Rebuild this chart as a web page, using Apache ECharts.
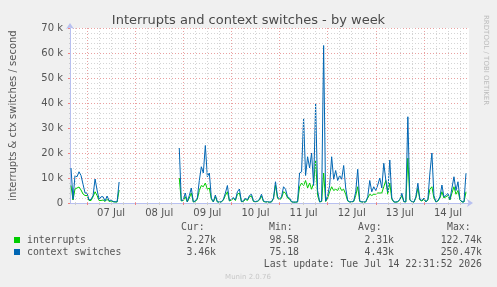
<!DOCTYPE html>
<html>
<head>
<meta charset="utf-8">
<script src="https://cdn.jsdelivr.net/npm/echarts@6/dist/echarts.min.js"></script>
<style>
  html, body { margin: 0; padding: 0; background: #f0f0f0; }
  #chart { width: 497px; height: 287px; }
</style>
</head>
<body>
<div id="chart"></div>
<script>
// hours are counted from 07 Jul 00:00
const dayLabels = ['07 Jul', '08 Jul', '09 Jul', '10 Jul', '11 Jul', '12 Jul', '13 Jul', '14 Jul'];
const dayLabelHours = [12, 36, 60, 84, 108, 132, 156, 180];
const dayMidnights = [0, 24, 48, 72, 96, 120, 144, 168];
const yTickLabels = ['0', '10 k', '20 k', '30 k', '40 k', '50 k', '60 k', '70 k'];

const stepHours = 1;
// first stretch: 06 Jul 16:00 .. 07 Jul 16:00
const segAStart = -8;
const interruptsA = [7000, 1200, 5600, 6000, 6400, 5200, 3600, 3000, 3000, 1000, 1000, 2500, 4500, 3000, 1000, 1000, 1200, 600, 1500, 600, 800, 500, 400, 400, 5200];
const ctxSwitchesA = [14000, 1500, 11000, 10500, 12500, 11000, 7500, 4000, 4000, 1200, 1500, 3000, 9600, 5200, 1500, 2500, 2500, 800, 2800, 900, 1200, 600, 500, 500, 8400];
// second stretch: 08 Jul 22:00 .. 14 Jul 21:00
const segBStart = 46;
const interruptsB = [
  10000, 800, 1000, 2500, 400, 2000, 4000, 400, 600, 1500,
  5000, 7000, 6500, 8000, 5500, 6000, 1500, 400, 2500, 400,
  300, 400, 1200, 3000, 4500, 800, 1200, 1800, 1000, 3500,
  4000, 500, 600, 1500, 1000, 2500, 2800, 600, 500, 600,
  1200, 2800, 600, 400, 400, 300, 400, 1800, 7200, 2000,
  1200, 2000, 4500, 4000, 2000, 1500, 400, 300, 300, 400,
  6500, 8000, 7000, 9000, 6000, 8000, 5500, 8000, 17000, 3000,
  400, 600, 12000, 600, 2000, 4500, 6500, 5000, 5500, 5000,
  6500, 5000, 5500, 3500, 800, 400, 400, 600, 3000, 6500,
  600, 400, 300, 400, 2000, 3500, 3000, 3500, 3500, 4000,
  4000, 4000, 6500, 9000, 3500, 8000, 1500, 400, 300, 500,
  1200, 3000, 500, 400, 17900, 1200, 400, 300, 2000, 5900,
  1200, 800, 1500, 400, 1200, 5500, 6500, 2000, 400, 800,
  2000, 4500, 2000, 2500, 3000, 1200, 4000, 6500, 3500, 5000,
  1200, 400, 400, 4500
];
const ctxSwitchesB = [
  22000, 1000, 1200, 4000, 500, 3000, 6000, 500, 800, 2000,
  9000, 14500, 12000, 23000, 10500, 12000, 2000, 500, 3200, 500,
  400, 500, 1500, 4000, 7000, 1000, 1500, 2200, 1200, 4500,
  5600, 600, 800, 2000, 1200, 3000, 3500, 800, 600, 800,
  1500, 3500, 800, 500, 500, 400, 500, 2000, 8500, 2500,
  1500, 2500, 6500, 5500, 2500, 2000, 500, 400, 400, 500,
  12000, 12500, 34000, 11000, 18500, 14000, 20000, 7000, 39600, 5000,
  500, 800, 63000, 800, 3000, 7000, 18500, 9500, 13000, 9000,
  11000, 9500, 15000, 6000, 1000, 500, 500, 800, 4500, 13500,
  800, 500, 400, 500, 2500, 9000, 4500, 6500, 5000, 7200,
  10000, 6000, 15900, 9200, 4500, 17200, 2000, 500, 400, 600,
  1500, 3900, 600, 500, 34500, 1500, 500, 400, 2500, 7900,
  1500, 1000, 2000, 500, 1500, 12000, 20000, 3000, 500, 1000,
  2500, 7200, 2500, 3000, 3900, 1500, 6000, 10500, 5000, 8500,
  1500, 500, 500, 11900
];

const legendNames = ['interrupts', 'context switches'];
const legendColors = ['#00cc00', '#0066b3'];
const statHeads = ['Cur:', 'Min:', 'Avg:', 'Max:'];
const intStats = ['2.27k', '98.58', '2.31k', '122.74k'];
const ctxStats = ['3.46k', '75.18', '4.43k', '250.47k'];
const lastUpdate = 'Last update: Tue Jul 14 22:31:52 2026';

function toPoints(start, values) {
  return values.map((v, i) => [start + i * stepHours, v]);
}
function joinSegments(a, b) {
  const gapAt = segAStart + a.length * stepHours;
  return toPoints(segAStart, a).concat([[gapAt, null]], toPoints(segBStart, b));
}

const quarterHours = [];
for (let h = -6; h < 190; h += 6) {
  if (h % 24 !== 0) quarterHours.push(h);
}

const mono = 'DejaVu Sans Mono';
const sans = 'DejaVu Sans';
const statCols = [216, 299, 394, 482];
const headLeft = [181, 269, 358, 447];

const graphic = [];
statHeads.forEach((t, i) => {
  graphic.push({ type: 'text', left: headLeft[i], top: 222,
    style: { text: t, font: '9.8px ' + mono, fill: '#555' } });
});
[intStats, ctxStats].forEach((row, r) => {
  const y = 240 + r * 12;
  graphic.push({ type: 'rect', shape: { x: 14, y: y - 3, width: 6, height: 6 },
    style: { fill: legendColors[r] } });
  graphic.push({ type: 'text', x: 27, y: y,
    style: { text: legendNames[r], font: '9.8px ' + mono, fill: '#555', verticalAlign: 'middle' } });
  row.forEach((t, i) => {
    graphic.push({ type: 'text', x: statCols[i], y: y,
      style: { text: t, font: '9.8px ' + mono, fill: '#555', align: 'right', verticalAlign: 'middle' } });
  });
});
graphic.push({ type: 'text', x: 482, y: 264,
  style: { text: lastUpdate, font: '9.8px ' + mono, fill: '#555', align: 'right', verticalAlign: 'middle' } });
graphic.push({ type: 'text', x: 248, y: 277,
  style: { text: 'Munin 2.0.76', font: '7px ' + sans, fill: '#c8c8c8', align: 'center', verticalAlign: 'middle' } });
graphic.push({ type: 'text', x: 486, y: 15, rotation: -Math.PI / 2,
  style: { text: 'RRDTOOL / TOBI OETIKER', font: '7px ' + sans, fill: '#bbb', align: 'left', verticalAlign: 'middle' } });

const gridLine = (h, color) => ({ xAxis: h, lineStyle: { color: color, type: [1, 2], width: 1 } });

const chart = echarts.init(document.getElementById('chart'));
const option = {
  animation: false,
  backgroundColor: '#f0f0f0',
  title: {
    text: 'Interrupts and context switches - by week',
    left: 'center',
    top: 9,
    textStyle: { fontFamily: sans, fontSize: 13, fontWeight: 'normal', color: '#4a4a4a' }
  },
  grid: { left: 67, right: 28, top: 28, bottom: 84, show: true, backgroundColor: '#fff', borderWidth: 0 },
  xAxis: [
    {
      type: 'value', min: -8.5, max: 190.5,
      axisLine: { onZero: false, lineStyle: { color: '#b8c0f0' }, symbol: ['none', 'arrow'], symbolSize: [6, 6], symbolOffset: [0, 4] },
      axisTick: { customValues: dayMidnights, length: 2, lineStyle: { color: '#f08080' } },
      splitLine: { show: false },
      axisLabel: {
        customValues: dayLabelHours, margin: 5,
        fontFamily: sans, fontSize: 10, color: '#555',
        formatter: v => dayLabels[dayLabelHours.indexOf(v)] || ''
      }
    },
    {
      type: 'value', min: -8.5, max: 190.5, position: 'bottom',
      axisLine: { show: false },
      axisTick: { customValues: quarterHours, length: 2, lineStyle: { color: '#ccc' } },
      splitLine: { show: false },
      axisLabel: { show: false }
    }
  ],
  yAxis: {
    type: 'value', min: 0, max: 70000, interval: 10000,
    name: 'interrupts & ctx switches / second',
    nameLocation: 'middle', nameGap: 52,
    nameTextStyle: { fontFamily: sans, fontSize: 10, color: '#555' },
    axisLine: { show: true, onZero: false, lineStyle: { color: '#b8c0f0' }, symbol: ['none', 'arrow'], symbolSize: [6, 6], symbolOffset: [0, 5] },
    axisTick: { show: true, length: 2, lineStyle: { color: '#f08080' } },
    axisLabel: {
      margin: 7, fontFamily: sans, fontSize: 10, color: '#555',
      formatter: v => yTickLabels[Math.round(v / 10000)]
    },
    splitLine: { lineStyle: { color: '#eaa0a0', type: [1, 2] } },
    minorTick: { show: true, splitNumber: 5, length: 1, lineStyle: { color: '#ccc' } },
    minorSplitLine: { show: true, lineStyle: { color: '#d4d4d4', type: [1, 2] } }
  },
  series: [
    {
      name: 'grid', type: 'line', data: [], silent: true, z: 1,
      markLine: {
        silent: true, symbol: ['none', 'none'], label: { show: false }, animation: false,
        data: quarterHours.map(h => gridLine(h, '#d4d4d4')).concat(dayMidnights.map(h => gridLine(h, '#eaa0a0')))
      }
    },
    {
      name: legendNames[0], type: 'line', showSymbol: false, z: 3,
      lineStyle: { width: 1, color: legendColors[0] }, itemStyle: { color: legendColors[0] },
      data: joinSegments(interruptsA, interruptsB)
    },
    {
      name: legendNames[1], type: 'line', showSymbol: false, z: 3,
      lineStyle: { width: 1, color: legendColors[1] }, itemStyle: { color: legendColors[1] },
      data: joinSegments(ctxSwitchesA, ctxSwitchesB)
    }
  ],
  graphic: graphic
};
chart.setOption(option);
</script>
</body>
</html>
